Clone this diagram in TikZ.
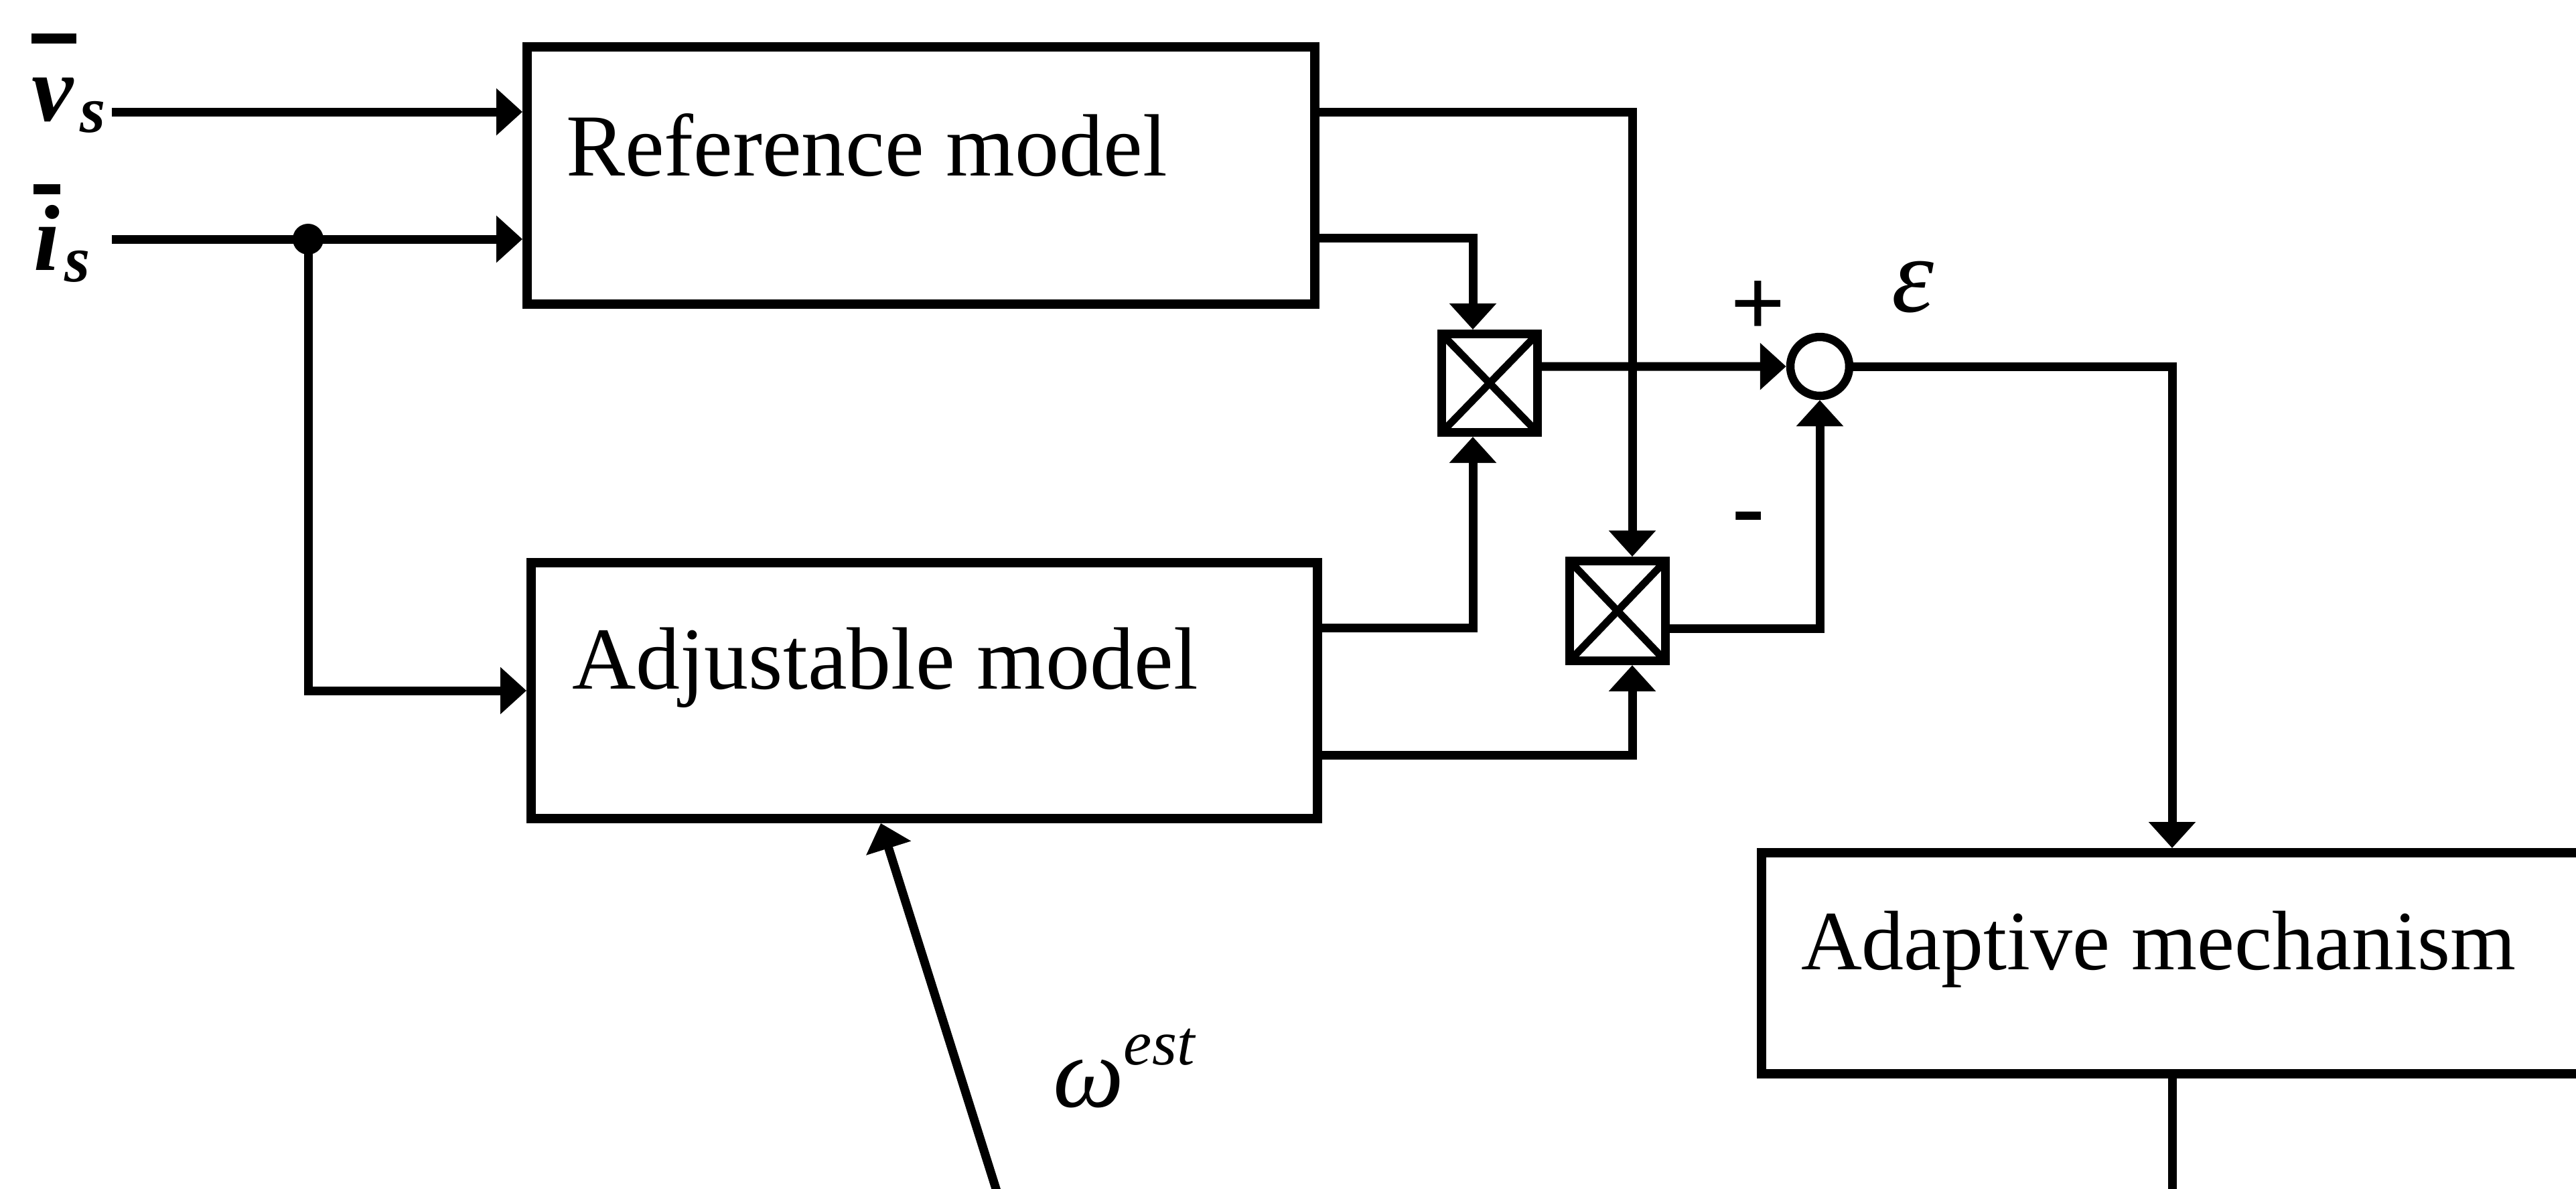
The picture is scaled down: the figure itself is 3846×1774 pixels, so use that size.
\documentclass[tikz,border=0pt]{standalone}
\usepackage{fontspec}
\setmainfont{Liberation Serif}
\usetikzlibrary{arrows.meta,calc}
\begin{document}
\begin{tikzpicture}[x=0.1pt,y=-0.1pt,
  line/.style={line width=1.3pt},
  arr/.style={line width=1.3pt,-{Triangle[length=3.9pt,width=6.8pt]}},
  blockbox/.style={draw,line width=1.4pt,rectangle,inner sep=0pt},
  mult/.style={draw,line width=1.3pt,rectangle,inner sep=0pt,minimum width=14.3pt,minimum height=14.7pt,
     path picture={\draw[line width=1.1pt] (path picture bounding box.north west) -- (path picture bounding box.south east) (path picture bounding box.north east) -- (path picture bounding box.south west);}},
  sumnode/.style={draw,circle,line width=1.25pt,minimum size=8.8pt,inner sep=0pt},
  dot/.style={circle,fill,inner sep=0pt,minimum size=4.6pt},
  boxtext/.style={anchor=base west,inner sep=0pt,font=\fontsize{13.2}{14}\selectfont},
  sign/.style={inner sep=0pt,font=\fontsize{14.5}{15}\selectfont\bfseries},
  varlab/.style={anchor=base west,inner sep=0pt,font=\fontsize{14}{14}\selectfont\bfseries\itshape},
]
\useasboundingbox (0,0) rectangle (3846,1774);
\clip (0,0) rectangle (3846,1774);

% blocks
\node[blockbox,minimum width=117.6pt,minimum height=38.4pt] (ref) at (1375,262) {};
\node[blockbox,minimum width=117.4pt,minimum height=38.2pt] (adj) at (1380,1031) {};
\node[blockbox,minimum width=133pt,minimum height=33pt] (adapt) at (3295,1438) {};
\node[mult] (m1) at (2224,572) {};
\node[mult,minimum height=14.9pt] (m2) at (2415,912) {};
\node[sumnode] (sum) at (2717,547) {};
\node[dot] (junc) at (460,357) {};

% texts
\node[boxtext] (reftxt) at (843,262) {Reference model};
\node[boxtext] (adjtxt) at (852,1028) {Adjustable model};
\node[boxtext,font=\fontsize{12.6}{14}\selectfont] (adapttxt) at (2687,1447) {Adaptive mechanism};
\node[sign] (plus) at (2625,461) {+};
\node[sign] (minus) at (2611,784) {-};
\node[anchor=base,inner sep=0pt,font=\fontsize{16}{16}\selectfont\itshape] (eps) at (2856,465) {ε};
\node[anchor=base west,inner sep=0pt,font=\fontsize{15}{15}\selectfont\itshape] (omega) at (1570,1652) {ω\raisebox{6.3pt}{\fontsize{9.5}{10}\selectfont est}};
\node[varlab] (vlab) at (45,180) {\rlap{\rule[11.5pt]{6.7pt}{1.5pt}}v\hspace{1pt}\raisebox{-1.7pt}{\fontsize{9.8}{10}\selectfont s}};
\node[varlab] (ilab) at (48,403) {\rlap{\rule[11.3pt]{4pt}{1.5pt}}i\hspace{0.8pt}\raisebox{-1.7pt}{\fontsize{9.8}{10}\selectfont s}};

% free ends
\coordinate (vin) at (167,167);
\coordinate (iin) at (167,357);
\coordinate (ecorner) at (3243,547);
\coordinate (aout) at (3243,1800);
\coordinate (wfoot) at (1495,1800);

% connectors
\draw[arr] (vin) -- (vin -| ref.west);
\draw[arr] (iin) -- (iin -| ref.west);
\draw[arr] (junc.center) |- (adj.west);
\draw[arr] ([yshift=9.5pt]ref.east) -| ([xshift=2.2pt]m2.north);
\draw[arr] ([yshift=-9.3pt]ref.east) -| ([xshift=-2.5pt]m1.north);
\draw[arr] ([yshift=9.4pt]adj.east) -| ([xshift=-2.5pt]m1.south);
\draw[arr] ([yshift=-9.6pt]adj.east) -| ([xshift=2.2pt]m2.south);
\draw[arr] ([yshift=2.5pt]m1.east) -- (sum.west);
\draw[arr] ([yshift=-2.6pt]m2.east) -| (sum.south);
\draw[arr] (sum.east) -- (ecorner) -- (ecorner |- adapt.north);
\draw[line] (adapt.south -| aout) -- (aout);
\draw[arr] (wfoot) -- ([xshift=-6.5pt]adj.south);
\end{tikzpicture}
\end{document}
